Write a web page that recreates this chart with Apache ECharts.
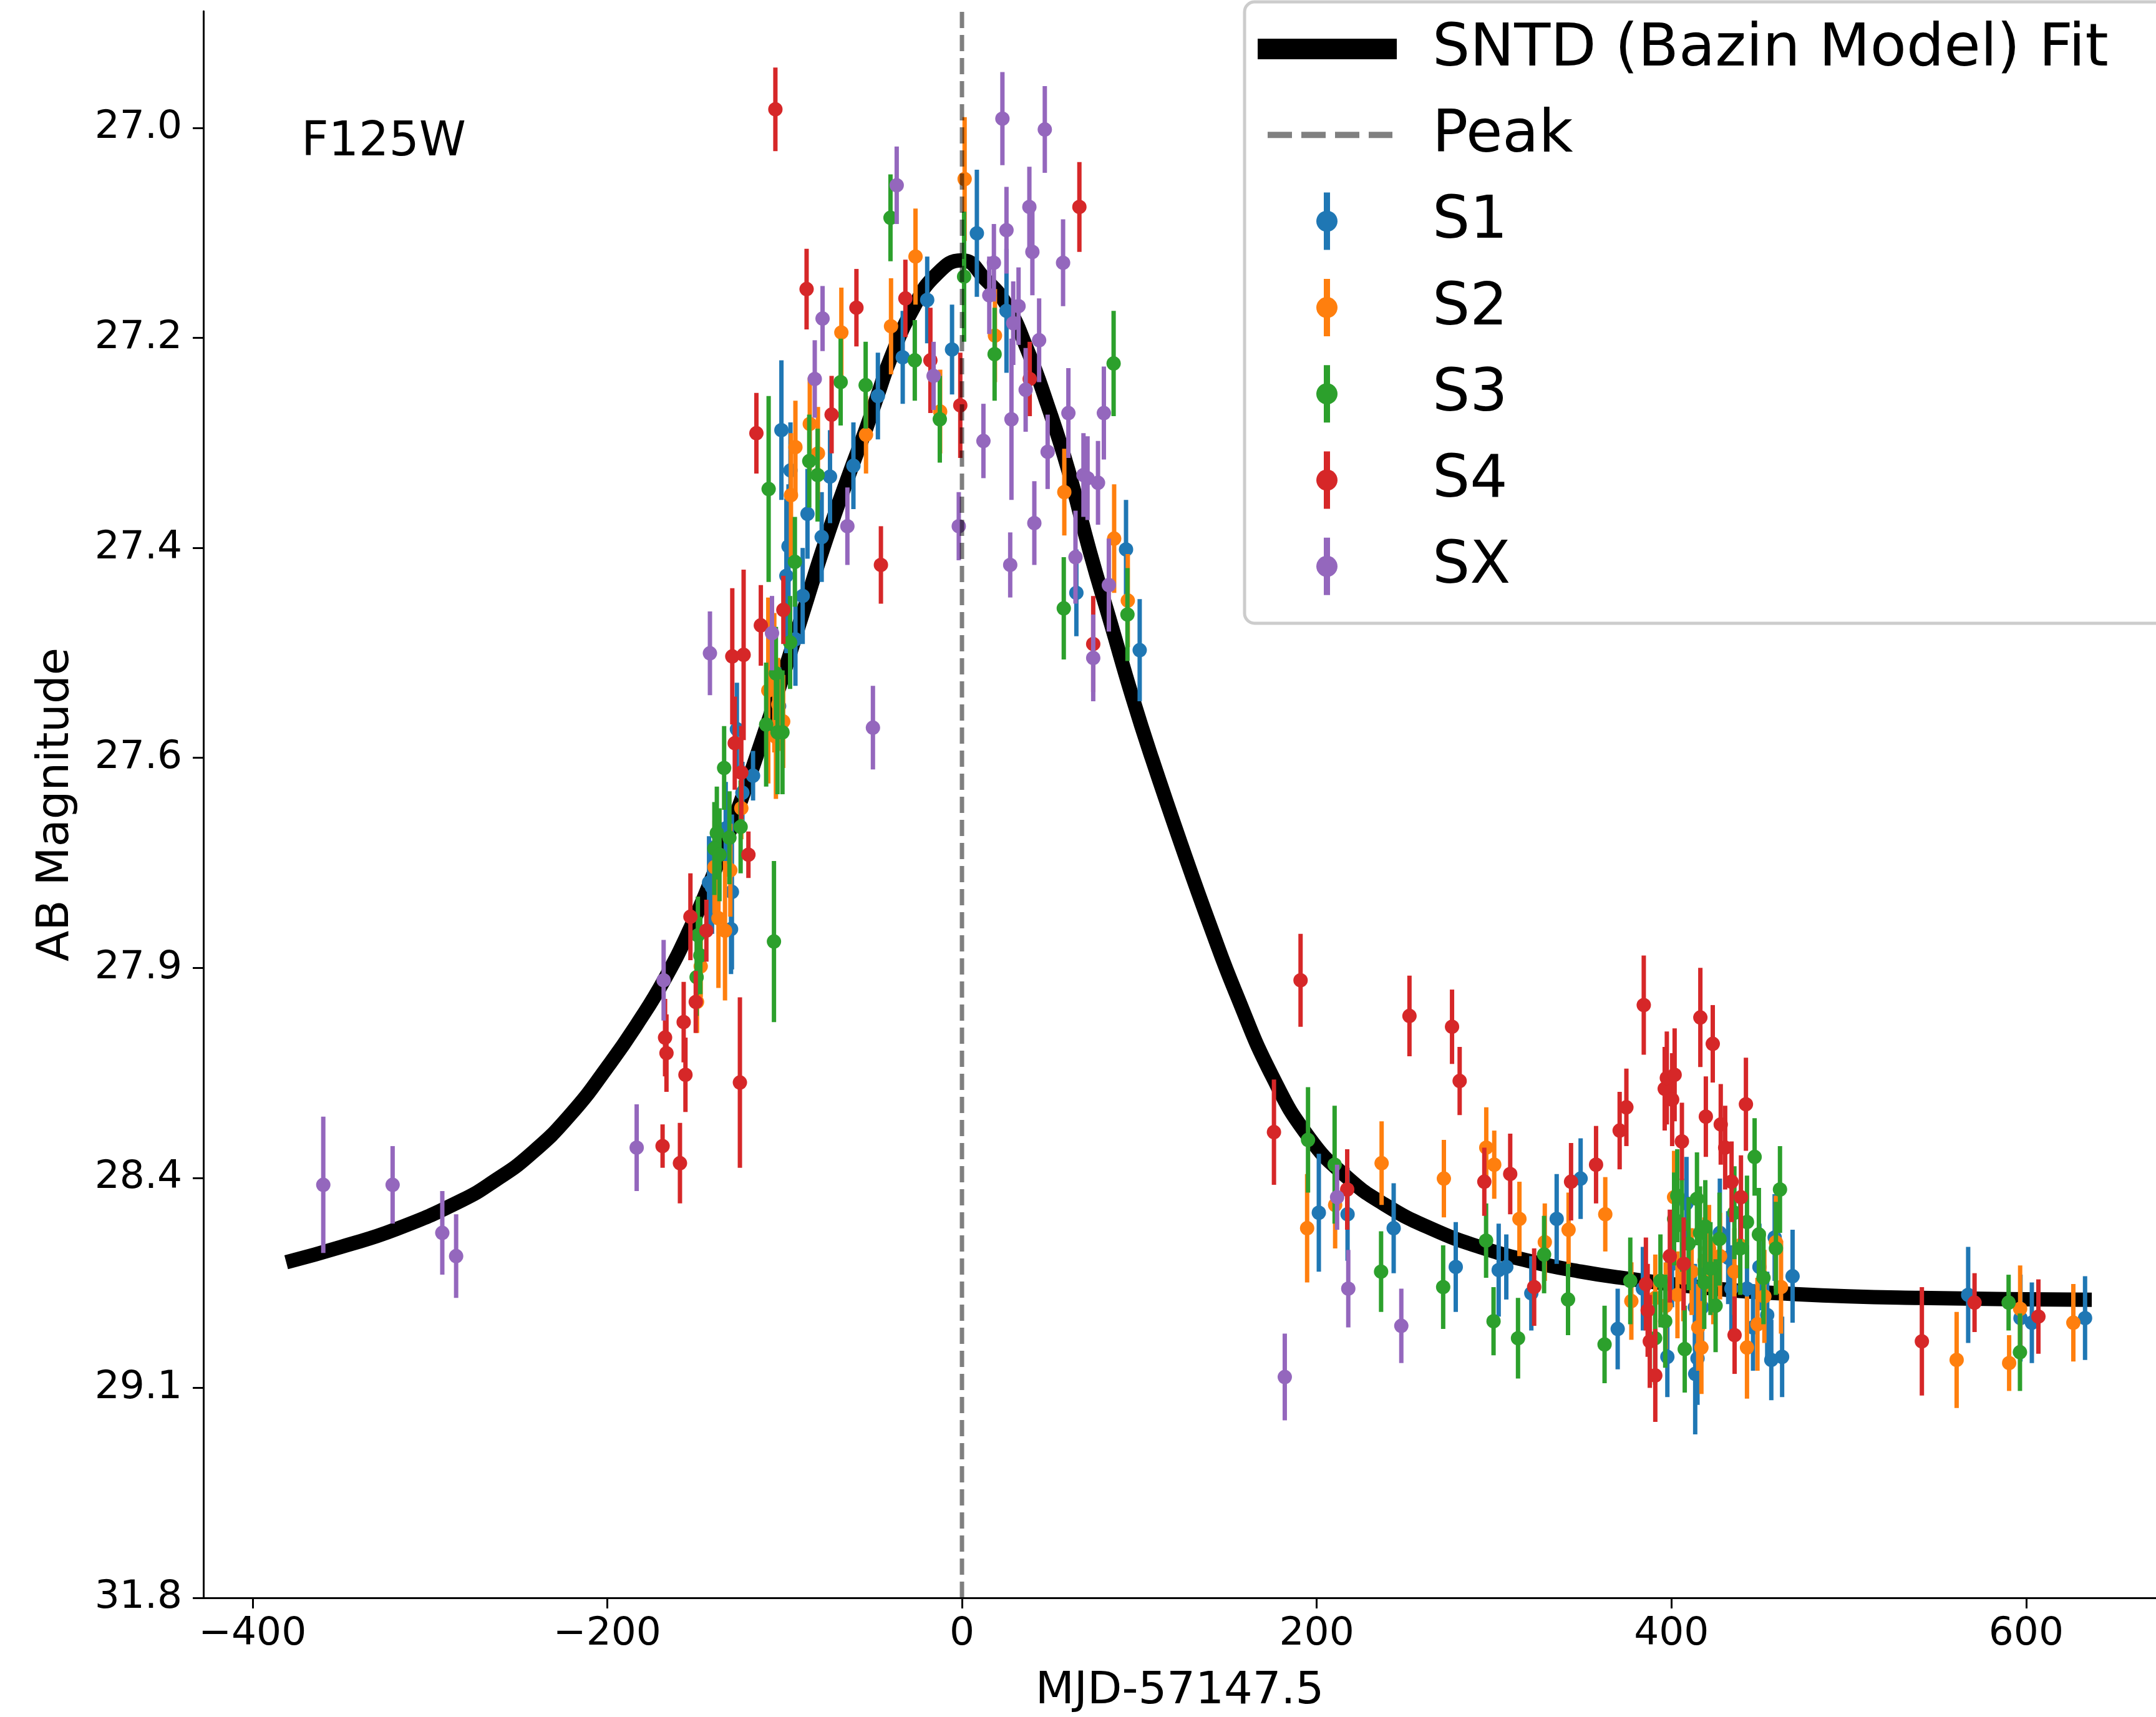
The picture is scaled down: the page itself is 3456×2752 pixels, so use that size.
<!DOCTYPE html>
<html>
<head>
<meta charset="utf-8">
<script src="https://cdn.jsdelivr.net/npm/echarts@6/dist/echarts.min.js"></script>
<style>
html,body{margin:0;padding:0;background:#ffffff;}
#chart{width:3456px;height:2752px;}
</style>
</head>
<body>
<div id="chart"></div>
<script>
// ---- Axis ticks (y axis is linear in flux, zero point 27 AB; labels are AB magnitudes) ----
const Y_TICK_LABELS = ['27.0','27.2','27.4','27.6','27.9','28.4','29.1','31.8'];
const Y_TICK_FLUX   = [0.961, 0.8255, 0.690, 0.5545, 0.419, 0.2835, 0.148, 0.0125];
const X_TICKS = [-400, -200, 0, 200, 400, 600];
const PEAK_TIME = 0;

// ---- SNTD (Bazin model) fit curve: time (days) and flux ----
const FIT_TIME = [-381, -350, -319, -282, -263, -244, -221, -198, -183, -168, -153, -141, -130, -117.5, -103, -90, -77, -62.5, -54, -47.4, -40, -27.3, -14.8, 0, 13.4, 25.1, 36.8, 48, 60, 72, 84, 96, 107, 125, 140, 154, 175, 196, 217, 238, 265, 293, 321, 349, 372, 420, 470, 540, 637];
const FIT_FLUX = [0.229, 0.239, 0.2504, 0.269, 0.282, 0.298, 0.324, 0.358, 0.383, 0.411, 0.445, 0.477, 0.510, 0.550, 0.600, 0.647, 0.694, 0.741, 0.767, 0.789, 0.813, 0.845, 0.866, 0.8756, 0.863, 0.8468, 0.818, 0.783, 0.740, 0.688, 0.641, 0.594, 0.5545, 0.494, 0.446, 0.404, 0.349, 0.309, 0.284, 0.2665, 0.2505, 0.2385, 0.2295, 0.223, 0.219, 0.2125, 0.2085, 0.206, 0.2048];

// ---- Photometry per image: [time (MJD-57147.5), flux, flux error] ----
const S1_POINTS = [
[-142.6,0.474,0.03],[-140.9,0.471,0.03],[-129.7,0.468,0.05],[-130.2,0.444,0.029],[-133.2,0.509,0.03],[-126.9,0.573,0.03],[-117.8,0.543,0.016],[-123.8,0.532,0.02],[-103.1,0.588,0.025],[-93.9,0.631,0.03],[-89.8,0.659,0.031],[-99.0,0.672,0.05],[-97.8,0.691,0.04],[-87.1,0.712,0.029],[-79.1,0.697,0.029],[-96.7,0.740,0.031],[-74.4,0.736,0.03],[-61.2,0.743,0.028],[-101.8,0.766,0.045],[-47.4,0.788,0.028],[-33.4,0.813,0.030],[-19.6,0.850,0.028],[-5.6,0.818,0.029],[8.4,0.893,0.041],[25.1,0.843,0.04],[64.5,0.661,0.028],[92.5,0.689,0.032],[100.2,0.624,0.033],
[201.2,0.261,0.038],[217.4,0.260,0.03],[243.4,0.251,0.029],[278.4,0.226,0.029],[302.6,0.224,0.030],[306.9,0.226,0.021],[321.0,0.209,0.024],[335.3,0.257,0.029],[348.8,0.283,0.026],[369.7,0.186,0.026],[383.9,0.212,0.027],[397.7,0.168,0.026],[400.3,0.228,0.028],[413.4,0.157,0.039],[414.7,0.167,0.03],[413.2,0.200,0.028],[417.3,0.200,0.028],[408.5,0.267,0.03],[427.3,0.248,0.035],[432.0,0.232,0.03],[433.8,0.212,0.028],[442.6,0.212,0.028],[449.6,0.226,0.028],[446.0,0.187,0.028],[454.0,0.195,0.028],[456.3,0.166,0.026],[462.4,0.168,0.026],[468.3,0.220,0.03],[458.2,0.245,0.028],[567.3,0.208,0.031],[596.8,0.193,0.028],[603.2,0.190,0.026],[633.2,0.193,0.027]
];
const S2_POINTS = [
[-139.5,0.484,0.03],[-130.6,0.482,0.03],[-137.3,0.451,0.045],[-133.6,0.443,0.045],[-147.3,0.420,0.02],[-149.4,0.397,0.02],[-124.4,0.522,0.02],[-93.9,0.755,0.03],[-81.2,0.751,0.03],[-96.4,0.724,0.04],[-109.2,0.598,0.06],[-105.8,0.603,0.045],[-103.6,0.589,0.03],[-100.8,0.578,0.03],[-104.9,0.568,0.04],[-54.1,0.763,0.025],[-68.0,0.829,0.029],[-85.8,0.770,0.03],[-40.0,0.833,0.031],[-26.2,0.878,0.031],[-12.3,0.778,0.027],[1.5,0.928,0.040],[18.6,0.827,0.03],[57.7,0.726,0.028],[85.8,0.696,0.035],[93.5,0.656,0.03],
[194.6,0.251,0.035],[210.4,0.266,0.028],[236.6,0.293,0.027],[271.7,0.283,0.025],[295.6,0.303,0.026],[300.1,0.292,0.022],[314.3,0.257,0.024],[328.6,0.242,0.025],[342.0,0.250,0.024],[362.7,0.260,0.024],[377.4,0.204,0.025],[401.5,0.271,0.03],[390.9,0.206,0.028],[396.8,0.201,0.028],[406.7,0.219,0.028],[411.4,0.223,0.028],[403.4,0.208,0.028],[415.1,0.187,0.028],[416.9,0.174,0.03],[421.2,0.238,0.028],[418.7,0.230,0.028],[427.4,0.233,0.028],[423.6,0.217,0.028],[435.5,0.223,0.028],[438.8,0.240,0.028],[442.6,0.174,0.033],[448.5,0.189,0.03],[452.4,0.207,0.03],[458.9,0.242,0.03],[461.8,0.213,0.03],[560.8,0.166,0.031],[590.4,0.164,0.018],[596.6,0.199,0.028],[626.6,0.190,0.025]
];
const S3_POINTS = [
[-138.2,0.506,0.03],[-139.6,0.496,0.03],[-136.7,0.492,0.03],[-131.1,0.503,0.03],[-124.8,0.510,0.03],[-148.9,0.440,0.025],[-147.5,0.427,0.025],[-149.6,0.413,0.025],[-106.0,0.436,0.052],[-109.0,0.728,0.06],[-86.1,0.746,0.03],[-81.4,0.737,0.03],[-94.2,0.681,0.029],[-96.9,0.629,0.03],[-104.9,0.609,0.03],[-110.4,0.576,0.04],[-104.0,0.571,0.04],[-101.2,0.571,0.04],[-134.1,0.548,0.027],[-40.3,0.903,0.028],[-68.4,0.797,0.028],[-54.3,0.795,0.028],[-26.6,0.811,0.026],[-12.5,0.773,0.028],[1.2,0.865,0.042],[18.4,0.815,0.03],[85.5,0.809,0.034],[57.4,0.651,0.033],[93.3,0.647,0.03],
[195.1,0.308,0.034],[210.1,0.292,0.038],[236.3,0.223,0.026],[271.3,0.213,0.027],[295.5,0.243,0.024],[299.7,0.191,0.022],[313.5,0.180,0.026],[328.2,0.234,0.025],[341.7,0.205,0.023],[362.3,0.176,0.025],[376.8,0.217,0.028],[393.8,0.217,0.03],[396.5,0.191,0.03],[390.8,0.180,0.03],[407.5,0.173,0.028],[401.5,0.257,0.03],[403.3,0.272,0.03],[405.9,0.253,0.03],[409.7,0.241,0.03],[414.4,0.270,0.03],[416.1,0.248,0.03],[419.1,0.252,0.03],[422.0,0.225,0.03],[418.5,0.216,0.03],[424.9,0.201,0.03],[427.1,0.244,0.03],[435.5,0.261,0.03],[442.6,0.255,0.03],[438.8,0.238,0.03],[446.9,0.297,0.025],[449.3,0.247,0.03],[451.9,0.219,0.03],[461.2,0.276,0.028],[458.9,0.238,0.03],[590.1,0.203,0.018],[596.5,0.171,0.025]
];
const S4_POINTS = [
[-167.4,0.374,0.025],[-166.6,0.364,0.025],[-156.9,0.384,0.026],[-155.9,0.350,0.024],[-150.1,0.397,0.02],[-153.1,0.452,0.028],[-144.1,0.443,0.02],[-120.4,0.492,0.015],[-125.2,0.345,0.055],[-168.8,0.304,0.014],[-159.0,0.293,0.026],[-115.9,0.764,0.026],[-129.5,0.620,0.044],[-123.1,0.621,0.055],[-113.4,0.640,0.026],[-100.7,0.650,0.022],[-128.1,0.564,0.03],[-124.4,0.545,0.03],[-45.7,0.679,0.025],[-73.5,0.776,0.025],[-105.2,0.973,0.027],[-87.6,0.857,0.026],[-59.5,0.845,0.025],[-31.9,0.851,0.025],[-17.8,0.811,0.034],[-0.95,0.782,0.034],[66.2,0.910,0.029],[38.2,0.799,0.024],[74.0,0.628,0.031],
[190.9,0.411,0.030],[175.9,0.313,0.034],[252.3,0.388,0.026],[276.3,0.381,0.024],[280.6,0.346,0.022],[217.2,0.276,0.026],[294.5,0.281,0.022],[309.1,0.286,0.026],[343.4,0.281,0.025],[357.5,0.292,0.025],[370.8,0.314,0.025],[322.6,0.213,0.025],[374.6,0.329,0.025],[384.4,0.395,0.032],[396.2,0.341,0.027],[397.4,0.348,0.03],[401.8,0.350,0.03],[400.4,0.334,0.03],[405.9,0.307,0.025],[416.3,0.387,0.032],[423.3,0.370,0.025],[419.4,0.323,0.026],[427.8,0.318,0.026],[430.3,0.303,0.027],[433.9,0.281,0.026],[442.0,0.331,0.030],[439.2,0.271,0.027],[399.1,0.233,0.03],[406.9,0.228,0.03],[385.6,0.215,0.03],[386.6,0.198,0.03],[387.8,0.178,0.03],[390.9,0.156,0.03],[435.6,0.182,0.025],[541.2,0.178,0.035],[570.9,0.203,0.019],[606.9,0.194,0.024]
];
const SX_POINTS = [
[-360.1,0.279,0.044],[-321.0,0.279,0.025],[-293.0,0.248,0.027],[-285.2,0.233,0.027],[-183.4,0.303,0.028],[-168.2,0.411,0.026],[-142.1,0.622,0.027],[-107.1,0.635,0.024],[-64.6,0.704,0.025],[-50.2,0.574,0.027],[-1.8,0.704,0.022],[-36.8,0.924,0.025],[-78.6,0.838,0.021],[-83.0,0.799,0.025],[-16.0,0.801,0.022],[22.8,0.967,0.030],[46.7,0.960,0.028],[38.0,0.910,0.026],[25.1,0.895,0.028],[18.0,0.874,0.025],[39.7,0.881,0.028],[57.0,0.874,0.028],[15.4,0.853,0.025],[31.9,0.846,0.025],[28.9,0.835,0.027],[43.5,0.824,0.027],[35.9,0.792,0.027],[27.9,0.773,0.052],[12.1,0.759,0.024],[48.3,0.752,0.024],[60.0,0.777,0.029],[80.0,0.777,0.030],[68.5,0.737,0.027],[70.8,0.735,0.027],[76.7,0.732,0.027],[27.2,0.679,0.021],[40.8,0.706,0.027],[64.0,0.684,0.03],[82.8,0.666,0.03],[74.0,0.619,0.028],
[182.0,0.155,0.028],[211.5,0.271,0.021],[217.8,0.212,0.025],[247.7,0.188,0.024]
];

const GROUPS = [
  {name:'S1', color:'#1f77b4', data:S1_POINTS},
  {name:'S2', color:'#ff7f0e', data:S2_POINTS},
  {name:'S3', color:'#2ca02c', data:S3_POINTS},
  {name:'S4', color:'#d62728', data:S4_POINTS},
  {name:'SX', color:'#9467bd', data:SX_POINTS}
];
const LEGEND_LABELS = ['SNTD (Bazin Model) Fit', 'Peak', 'S1', 'S2', 'S3', 'S4', 'SX'];
const FILTER_LABEL = 'F125W';

const FONT = 'DejaVu Sans';
const Y_MIN = 0.0125, Y_MAX = 1.0363, X_MIN = -427.7, X_MAX = 673.2;

const chart = echarts.init(document.getElementById('chart'), null, {renderer:'canvas', width:3456, height:2752});

const series = [];
series.push({
  name:'fit', type:'line', z:2,
  data: FIT_TIME.map((t,i)=>[t, FIT_FLUX[i]]),
  smooth:0.5, symbol:'none', silent:true,
  lineStyle:{color:'#000000', width:23, cap:'butt', join:'round'}
});
let z = 3;
GROUPS.forEach(g => {
  series.push({
    name:g.name+'_err', type:'custom', z:z++, silent:true,
    data:g.data,
    encode:{x:0, y:1},
    renderItem:(params, api) => {
      const t = api.value(0), f = api.value(1), e = api.value(2);
      const p1 = api.coord([t, f - e]);
      const p2 = api.coord([t, f + e]);
      return {type:'line', shape:{x1:p1[0], y1:p1[1], x2:p2[0], y2:p2[1]},
              style:{stroke:g.color, lineWidth:7}};
    }
  });
  series.push({
    name:g.name, type:'scatter', z:z++, silent:true,
    data:g.data.map(d=>[d[0], d[1]]),
    symbol:'circle', symbolSize:23,
    itemStyle:{color:g.color, opacity:1}
  });
});
series.push({
  name:'peak', type:'line', z:30, silent:true,
  data:[[PEAK_TIME, Y_MIN],[PEAK_TIME, Y_MAX]],
  symbol:'none',
  lineStyle:{color:'rgba(0,0,0,0.5)', width:7, type:[26,11]}
});

// legend drawn as graphic elements (matplotlib style errorbar handles)
const LEG_X0 = 1995, ROW0 = 78, ROW_STEP = 138.3, ICON_X = 2127, TEXT_X = 2296;
const graphics = [];
graphics.push({type:'rect', z:100, shape:{x:LEG_X0, y:3, width:1600, height:996, r:16},
  style:{fill:'#ffffff', stroke:'#cccccc', lineWidth:5}});
graphics.push({type:'rect', z:101, shape:{x:2016, y:ROW0-16, width:223, height:33},
  style:{fill:'#000000'}});
graphics.push({type:'line', z:101, shape:{x1:2032, y1:ROW0+ROW_STEP, x2:2232, y2:ROW0+ROW_STEP},
  style:{stroke:'#808080', lineWidth:10, lineDash:[39,15]}});
GROUPS.forEach((g,i) => {
  const cy = ROW0 + ROW_STEP*(i+2);
  graphics.push({type:'line', z:101, shape:{x1:ICON_X, y1:cy-46, x2:ICON_X, y2:cy+46},
    style:{stroke:g.color, lineWidth:10}});
  graphics.push({type:'circle', z:102, shape:{cx:ICON_X, cy:cy, r:17}, style:{fill:g.color}});
});
LEGEND_LABELS.forEach((lab,i) => {
  graphics.push({type:'text', z:103, x:TEXT_X, y:ROW0 + 2 + ROW_STEP*i,
    style:{text:lab, fill:'#000000', font:'95px "DejaVu Sans"', textAlign:'left', textVerticalAlign:'middle'}});
});
graphics.push({type:'text', z:50, x:483, y:229,
  style:{text:FILTER_LABEL, fill:'#000000', font:'76px "DejaVu Sans"', textAlign:'left', textVerticalAlign:'middle'}});

const option = {
  animation:false,
  backgroundColor:'#ffffff',
  grid:{left:326, top:18, right:0, bottom:191, containLabel:false},
  xAxis:{
    type:'value', min:X_MIN, max:X_MAX,
    axisLine:{show:true, onZero:false, lineStyle:{color:'#000000', width:3}},
    axisTick:{show:true, length:17, inside:false, customValues:X_TICKS, lineStyle:{color:'#000000', width:3}},
    axisLabel:{show:true, customValues:X_TICKS, margin:27, fontSize:63, color:'#000000', fontFamily:FONT,
      formatter:v => (v < 0 ? '\u2212' + Math.abs(v) : String(v))},
    splitLine:{show:false},
    name:'MJD-57147.5', nameLocation:'middle', nameGap:114,
    nameTextStyle:{fontSize:72, color:'#000000', fontFamily:FONT}
  },
  yAxis:{
    type:'value', min:Y_MIN, max:Y_MAX,
    axisLine:{show:true, onZero:false, lineStyle:{color:'#000000', width:3}},
    axisTick:{show:true, length:17, inside:false, customValues:Y_TICK_FLUX, lineStyle:{color:'#000000', width:3}},
    axisLabel:{show:true, customValues:Y_TICK_FLUX, margin:34, fontSize:63, color:'#000000', fontFamily:FONT,
      formatter:v => {
        let best = 0;
        Y_TICK_FLUX.forEach((f,i) => { if (Math.abs(f - v) < Math.abs(Y_TICK_FLUX[best] - v)) best = i; });
        return Y_TICK_LABELS[best];
      }},
    splitLine:{show:false},
    name:'AB Magnitude', nameLocation:'middle', nameGap:200, nameRotate:90,
    nameTextStyle:{fontSize:72, color:'#000000', fontFamily:FONT}
  },
  graphic:graphics,
  series:series
};
chart.setOption(option);
</script>
</body>
</html>
